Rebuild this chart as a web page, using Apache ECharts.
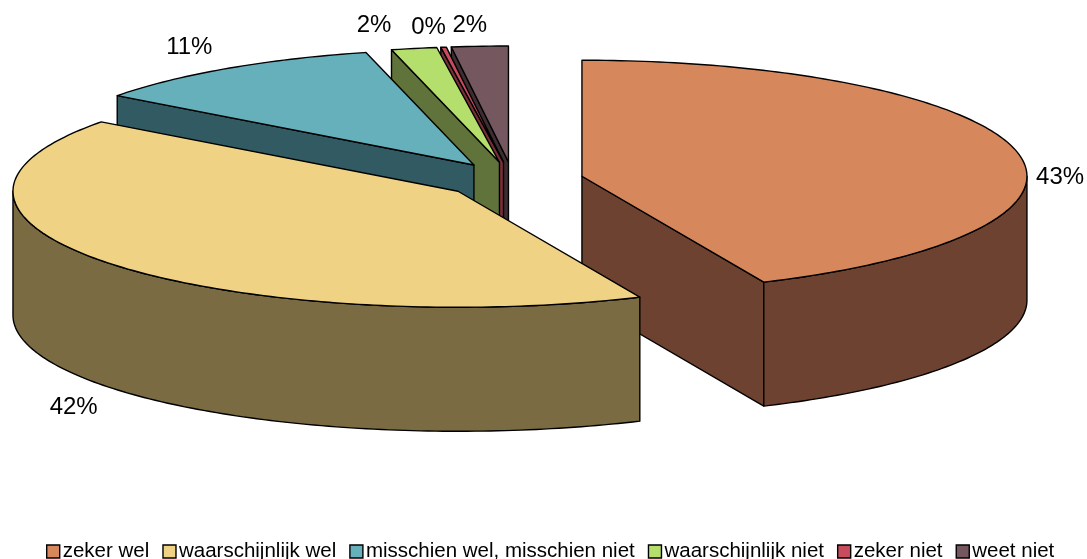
<!DOCTYPE html>
<html>
<head>
<meta charset="utf-8">
<style>
  html, body { margin: 0; padding: 0; background: #fff; }
  #chart { width: 1087px; height: 559px; }
</style>
<script src="https://cdn.jsdelivr.net/npm/echarts@6/dist/echarts.min.js"></script>
</head>
<body>
<div id="chart"></div>
<script>
// data
const categories = ['zeker wel', 'waarschijnlijk wel', 'misschien wel, misschien niet', 'waarschijnlijk niet', 'zeker niet', 'weet niet'];
const shares = [43.3, 41.9, 10.9, 1.65, 0.2, 2.05];

// styling
const topColors = ['#D6885C', '#EFD283', '#65B0BB', '#B5DF6C', '#C94C5C', '#75585F'];
const wallColors = ['#6E4230', '#7A6B42', '#325A62', '#60733A', '#7A2E38', '#3C2E32'];
const drawOrder = [5, 4, 3, 2, 0, 1]; // back slices first
const labelOffsets = [[43, 25], [-37, 144], [-38, -21], [-40, -23], [-15, -20], [-10, -21]];

// 3d pie layout
const cx = 513, cy = 180;
const rx = 445, ry = 116;
const depth = 124;
const explodeX = 70.5, explodeY = 18;
const lineColor = '#000';
const lineWidth = 1.4;

const total = shares.reduce((a, b) => a + b, 0);
const rad = d => d * Math.PI / 180;

function rim(c, deg, drop) {
  return [c[0] + rx * Math.sin(rad(deg)), c[1] - ry * Math.cos(rad(deg)) + (drop || 0)];
}

function arcPoints(c, from, to, drop) {
  const pts = [];
  for (let d = from; d < to; d += 1) pts.push(rim(c, d, drop));
  pts.push(rim(c, to, drop));
  return pts;
}

function poly(points, fill) {
  return {
    type: 'polygon',
    shape: { points: points },
    style: { fill: fill, stroke: lineColor, lineWidth: lineWidth, lineJoin: 'round' }
  };
}

function sliceRenderer(i) {
  return function (params, api) {
    const value = api.value(0);
    const before = shares.slice(0, i).reduce((a, b) => a + b, 0);
    const start = before / total * 360;
    const end = start + value / total * 360;
    const mid = (start + end) / 2;
    const c = [cx + explodeX * Math.sin(rad(mid)), cy - explodeY * Math.cos(rad(mid))];
    const low = [c[0], c[1] + depth];
    const children = [];

    // radial walls, only those facing the viewer
    if (Math.sin(rad(start)) < -1e-6) {
      children.push(poly([c, rim(c, start), rim(c, start, depth), low], wallColors[i]));
    }
    if (Math.sin(rad(end)) > 1e-6) {
      children.push(poly([c, rim(c, end), rim(c, end, depth), low], wallColors[i]));
    }
    // outer wall, front half of the ellipse only
    const a = Math.max(start, 90), b = Math.min(end, 270);
    if (b > a) {
      children.push(poly(arcPoints(c, a, b).concat(arcPoints(c, a, b, depth).reverse()), wallColors[i]));
    }
    // top surface
    children.push(poly([c].concat(arcPoints(c, start, end)), topColors[i]));

    const p = rim(c, mid);
    children.push({
      type: 'text',
      style: {
        text: Math.round(value / total * 100) + '%',
        x: p[0] + labelOffsets[i][0],
        y: p[1] + labelOffsets[i][1],
        align: 'center',
        verticalAlign: 'middle',
        fill: '#000',
        font: '24px "Liberation Sans", Arial, sans-serif'
      }
    });
    return { type: 'group', children: children };
  };
}

const chart = echarts.init(document.getElementById('chart'));

chart.setOption({
  animation: false,
  backgroundColor: '#fff',
  legend: {
    left: 46,
    top: 541,
    itemWidth: 13,
    itemHeight: 13,
    itemGap: 13,
    icon: 'rect',
    selectedMode: false,
    padding: 0,
    itemStyle: { borderColor: '#000', borderWidth: 1.4 },
    textStyle: {
      color: '#000',
      fontFamily: '"Liberation Sans", Arial, sans-serif',
      fontSize: 20.5,
      padding: [0, 0, 0, -2]
    },
    data: categories
  },
  series: categories.map((name, i) => ({
    type: 'custom',
    name: name,
    coordinateSystem: 'none',
    z: 2 + drawOrder.indexOf(i),
    silent: true,
    itemStyle: { color: topColors[i] },
    renderItem: sliceRenderer(i),
    data: [[shares[i]]]
  }))
});
</script>
</body>
</html>
